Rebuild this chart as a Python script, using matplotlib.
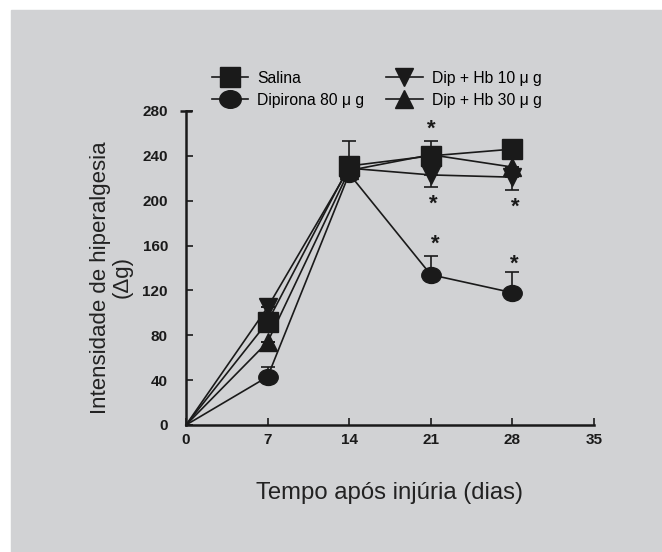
import matplotlib
matplotlib.use("Agg")
import matplotlib.pyplot as plt
from matplotlib.lines import Line2D
from matplotlib.patches import Rectangle
from matplotlib.path import Path
from matplotlib.transforms import Affine2D

plt.rcParams["font.family"] = ["Liberation Sans", "DejaVu Sans"]

days = [0, 7, 14, 21, 28]
salina = [0, 92, 231, 240, 246]
dipirona = [0, 43, 224, 134, 118]
hb10 = [0, 105, 229, 223, 221]
hb30 = [0, 74, 227, 241, 230]

# one-sided SEM bars (upper / lower)
salina_up = [0, 0, 22, 0, 0]
dipirona_up = [0, 9, 0, 17, 18]
hb10_down = [0, 0, 0, 11, 11]
hb30_up = [0, 0, 0, 12, 0]

labels = ["Salina", "Dipirona 80 \u03bc g", "Dip + Hb 10 \u03bc g", "Dip + Hb 30 \u03bc g"]

# significance marks (day, y)
stars = [(21.08, 263.5), (21.2, 196.5), (28.28, 194), (21.4, 161), (28.15, 143)]

BG = "#d1d2d4"
INK = "#1a1a1a"

# slightly flattened circle, as in the original figure
ellipse = Path.unit_circle().transformed(Affine2D().scale(1.0, 0.82))
markers = ["s", ellipse, "v", "^"]
sizes = [14, 14, 13.5, 13.5]
leg_sizes = [15, 15.5, 13, 13]

fig = plt.figure(figsize=(6.62, 5.52), dpi=100)
fig.patches.append(Rectangle((11 / 662, 0), 1, 1 - 10 / 552, transform=fig.transFigure,
                             color=BG, zorder=-10))
ax = fig.add_axes([186 / 662, 1 - 425 / 552, 408 / 662, 314 / 552])
ax.set_facecolor("none")

series = [salina, dipirona, hb10, hb30]
for vals, m, ms in zip(series, markers, sizes):
    ax.plot(days, vals, color=INK, lw=1.2, marker=m, ms=ms, markevery=slice(1, None),
            mfc=INK, mec=INK, clip_on=False, zorder=3)

ebkw = dict(fmt="none", ecolor=INK, elinewidth=1.2, capsize=5, capthick=1.2, zorder=2)
ax.errorbar(days, salina, yerr=[[0] * 5, salina_up], **ebkw)
ax.errorbar(days, dipirona, yerr=[[0] * 5, dipirona_up], **ebkw)
ax.errorbar(days, hb10, yerr=[hb10_down, [0] * 5], **ebkw)
ax.errorbar(days, hb30, yerr=[[0] * 5, hb30_up], **ebkw)

for x, y in stars:
    ax.text(x, y, "*", ha="center", va="center", fontsize=16, fontweight="bold", color=INK)

ax.set_xlim(0, 35)
ax.set_ylim(0, 280)
ax.set_xticks(range(0, 36, 7))
ax.set_yticks(range(0, 281, 40))
ax.spines[["top", "right"]].set_visible(False)
for s in ("left", "bottom"):
    ax.spines[s].set_linewidth(1.8)
    ax.spines[s].set_color(INK)
ax.tick_params(direction="in", length=5, width=1.2, color=INK, labelsize=11,
               labelcolor=INK)
ax.tick_params(axis="y", pad=13)
ax.tick_params(axis="x", pad=6)
for lab in ax.get_xticklabels() + ax.get_yticklabels():
    lab.set_fontweight("bold")
# cap at the top of the y axis
ax.plot(0, ax.get_ylim()[1], marker="_", ms=9, mew=1.8, color=INK, clip_on=False)

ax.set_ylabel("Intensidade de hiperalgesia\n(\u0394g)", fontsize=16, color="#222222",
              linespacing=1.05)
ax.yaxis.set_label_coords(-0.13, 0.47)
ax.set_xlabel("Tempo ap\u00f3s inj\u00faria (dias)", fontsize=17.2, color="#222222",
              labelpad=25)

handles = [Line2D([], [], color=INK, lw=1.2, marker=m, ms=ms, mfc=INK, mec=INK)
           for m, ms in zip(markers, leg_sizes)]
fig.legend(handles, labels, loc="center left", bbox_to_anchor=(0.32, 0.838), ncol=2,
           frameon=False, fontsize=11.3, handlelength=2.3, handletextpad=0.6,
           columnspacing=1.4, labelspacing=0.45, borderaxespad=0, borderpad=0)

fig.savefig("out.png", facecolor="white")
